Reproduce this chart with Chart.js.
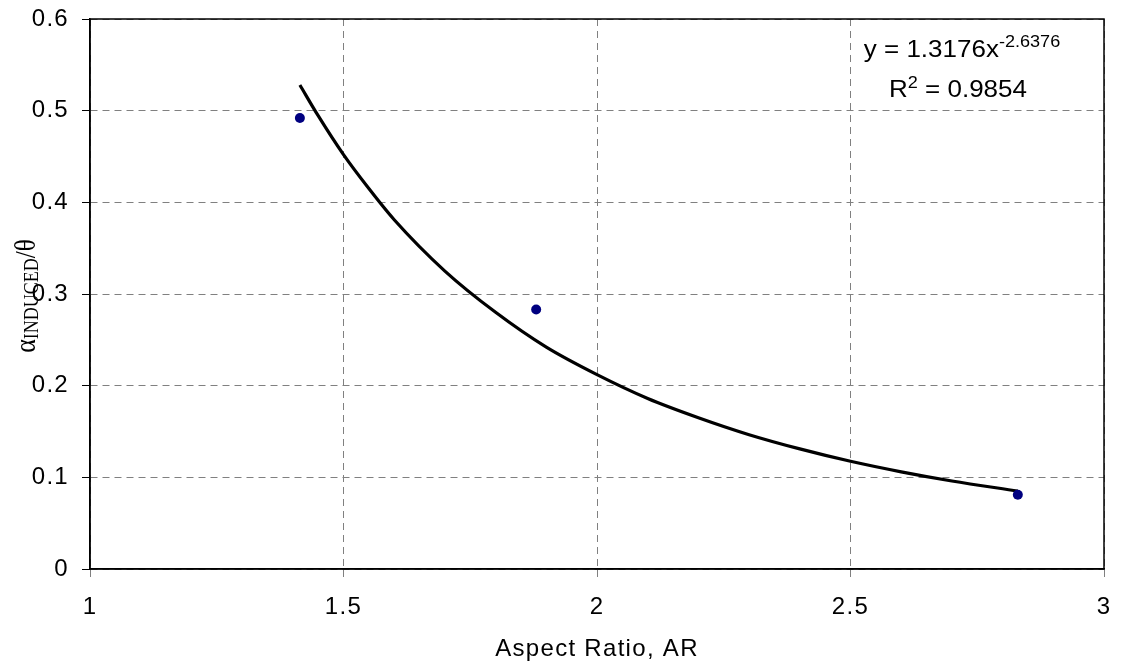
<!DOCTYPE html>
<html><head><meta charset="utf-8">
<script src="https://cdn.jsdelivr.net/npm/chart.js@4.4.1/dist/chart.umd.min.js"></script>
<style>html,body{margin:0;padding:0;background:#fff;overflow:hidden}#wrap{width:1123px;height:662px}</style>
</head><body><div id="wrap"><canvas id="c" width="1123" height="662"></canvas></div>
<script>
// measured data points
const aspectRatio = [1.414, 1.88, 2.83];
const alphaInducedOverTheta = [0.492, 0.283, 0.081];
// power trend line
const fitX = [1.414, 1.45, 1.5, 1.55, 1.6, 1.7, 1.8, 1.9, 2.0, 2.1, 2.2, 2.3, 2.4, 2.5, 2.6, 2.7, 2.83];
const fitY = [0.528, 0.4945, 0.452, 0.415, 0.381, 0.325, 0.280, 0.242, 0.212, 0.186, 0.165, 0.1465, 0.131, 0.1175, 0.106, 0.096, 0.085];
const xTickLabels = ['1', '1.5', '2', '2.5', '3'];
const yTickLabels = ['0', '0.1', '0.2', '0.3', '0.4', '0.5', '0.6'];
const fitEquation = ['y = 1.3176x', '-2.6376'];
const fitR2 = ['R', '2', ' = 0.9854'];
const xTitle = 'Aspect Ratio, AR';
const yTitleParts = ['\u03B1', 'INDUCED', '/\u03B8'];

const SANS = '"Liberation Sans", Arial, sans-serif';
const SERIF = '"Liberation Serif", "Times New Roman", serif';

const pointsData = aspectRatio.map((x, i) => ({x, y: alphaInducedOverTheta[i]}));
const fitData = fitX.map((x, i) => ({x, y: fitY[i]}));

const decor = {
  id: 'decor',
  beforeDraw(chart) {
    chart.ctx.letterSpacing = '1.3px';
  },
  afterDraw(chart) {
    const ctx = chart.ctx;
    const a = chart.chartArea;
    ctx.save();
    ctx.letterSpacing = '0px';
    // plot frame
    ctx.strokeStyle = '#000';
    ctx.lineWidth = 1.5;
    ctx.strokeRect(a.left, a.top, a.right - a.left, a.bottom - a.top);

    // equation text
    const sx = 1.13;
    ctx.fillStyle = '#000';
    ctx.textBaseline = 'alphabetic';
    ctx.textAlign = 'left';
    function drawLine(parts, cx, base) {
      let w = 0;
      parts.forEach(p => { ctx.font = p[1] + 'px ' + SANS; w += ctx.measureText(p[0]).width; });
      ctx.save();
      ctx.translate(cx - w * sx / 2, base);
      ctx.scale(sx, 1);
      let x = 0;
      parts.forEach(p => {
        ctx.font = p[1] + 'px ' + SANS;
        ctx.fillText(p[0], x, -p[2]);
        x += ctx.measureText(p[0]).width;
      });
      ctx.restore();
    }
    drawLine([[fitEquation[0], 23, 0], [fitEquation[1], 16, 10]], a.right - 142, a.top + 38);
    drawLine([[fitR2[0], 23, 0], [fitR2[1], 16, 9], [fitR2[2], 23, 0]], a.right - 146, a.top + 78);

    // y axis title (rotated, with subscript)
    ctx.save();
    ctx.translate(35, (a.top + a.bottom) / 2 + 2);
    ctx.rotate(-Math.PI / 2);
    ctx.scale(1, 1.15);
    const parts = [[yTitleParts[0], 26, 0], [yTitleParts[1], 18, -3], [yTitleParts[2], 25, 0]];
    let tw = 0;
    parts.forEach(p => { ctx.font = p[1] + 'px ' + SERIF; tw += ctx.measureText(p[0]).width; });
    let x = -tw / 2;
    parts.forEach(p => {
      ctx.font = p[1] + 'px ' + SERIF;
      ctx.fillText(p[0], x, -p[2]);
      x += ctx.measureText(p[0]).width;
    });
    ctx.restore();
    ctx.restore();
  }
};

new Chart(document.getElementById('c'), {
  type: 'scatter',
  data: {
    datasets: [
      {
        label: 'data',
        data: pointsData,
        showLine: false,
        pointRadius: 5,
        pointBackgroundColor: '#000080',
        pointBorderColor: '#000080',
        pointBorderWidth: 0
      },
      {
        label: 'Power fit',
        data: fitData,
        showLine: true,
        pointRadius: 0,
        borderColor: '#000',
        borderWidth: 3.2,
        cubicInterpolationMode: 'monotone',
        fill: false
      }
    ]
  },
  options: {
    responsive: false,
    animation: false,
    layout: {padding: {left: 0, top: 19, right: 19, bottom: 0}},
    plugins: {legend: {display: false}, tooltip: {enabled: false}},
    scales: {
      x: {
        type: 'linear', min: 1, max: 3,
        ticks: {
          stepSize: 0.5, color: '#000', padding: 16, maxRotation: 0, autoSkip: false,
          font: {family: SANS, size: 24},
          callback: (v, i) => xTickLabels[i]
        },
        grid: {color: '#808080', lineWidth: 1, tickLength: 8, tickColor: '#808080', tickBorderDash: []},
        border: {display: true, color: '#000', width: 1.5, dash: [7, 5]},
        title: {display: true, text: xTitle, color: '#000', font: {family: SANS, size: 24, lineHeight: 1.1}, padding: {top: 0, bottom: -1}},
        afterFit(s) { s.height = 93; s.paddingLeft = 0; s.paddingRight = 0; }
      },
      y: {
        type: 'linear', min: 0, max: 0.6,
        ticks: {
          stepSize: 0.1, color: '#000', padding: 13, autoSkip: false,
          font: {family: SANS, size: 24},
          callback: (v, i) => yTickLabels[i]
        },
        grid: {color: '#808080', lineWidth: 1, tickLength: 8, tickColor: '#000', tickBorderDash: []},
        border: {display: true, color: '#000', width: 1.5, dash: [7, 5]},
        afterFit(s) { s.width = 90; s.paddingTop = 0; s.paddingBottom = 0; }
      }
    }
  },
  plugins: [decor]
});
</script>
</body></html>
